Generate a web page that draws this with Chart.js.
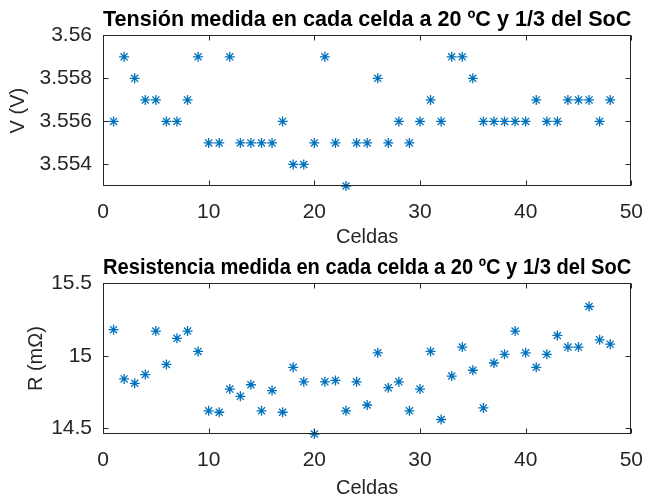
<!DOCTYPE html>
<html>
<head>
<meta charset="utf-8">
<script src="https://cdn.jsdelivr.net/npm/chart.js@4/dist/chart.umd.min.js"></script>
<style>
  html, body { margin: 0; padding: 0; background: #fff; }
  #wrap { position: relative; width: 657px; height: 500px; }
  .panel { position: absolute; left: 0; width: 657px; }
  #p1 { top: 0; height: 249px; }
  #p2 { top: 249px; height: 251px; }
</style>
</head>
<body>
<div id="wrap">
  <div class="panel" id="p1"><canvas id="c1"></canvas></div>
  <div class="panel" id="p2"><canvas id="c2"></canvas></div>
</div>
<script>
// Cell numbers 1..48
const cells = [1,2,3,4,5,6,7,8,9,10,11,12,13,14,15,16,17,18,19,20,21,22,23,24,
               25,26,27,28,29,30,31,32,33,34,35,36,37,38,39,40,41,42,43,44,45,46,47,48];

// Measured voltage per cell (V)
const voltage = [3.556,3.559,3.558,3.557,3.557,3.556,3.556,3.557,3.559,3.555,3.555,3.559,
                 3.555,3.555,3.555,3.555,3.556,3.554,3.554,3.555,3.559,3.555,3.553,3.555,
                 3.555,3.558,3.555,3.556,3.555,3.556,3.557,3.556,3.559,3.559,3.558,3.556,
                 3.556,3.556,3.556,3.556,3.557,3.556,3.556,3.557,3.557,3.557,3.556,3.557];

// Measured internal resistance per cell (mΩ)
const resistance = [15.18,14.84,14.81,14.87,15.17,14.94,15.12,15.17,15.03,14.62,14.61,14.77,
                    14.72,14.80,14.62,14.76,14.61,14.92,14.82,14.46,14.82,14.83,14.62,14.82,
                    14.66,15.02,14.78,14.82,14.62,14.77,15.03,14.56,14.86,15.06,14.90,14.64,
                    14.95,15.01,15.17,15.02,14.92,15.01,15.14,15.06,15.06,15.34,15.11,15.08];

// Axis ticks and limits
const xTicks = [0,10,20,30,40,50];
const vTicks = [3.554,3.556,3.558,3.56];
const rTicks = [14.5,15,15.5];
const vLimits = [3.553, 3.56];
const rLimits = [14.46, 15.5];

const titles = ['Tensión medida en cada celda a 20 ºC y 1/3 del SoC',
                'Resistencia medida en cada celda a 20 ºC y 1/3 del SoC'];
const xLabel = 'Celdas';
const yLabels = ['V (V)', 'R (mΩ)'];

const FONT = '"Liberation Sans", Arial, Helvetica, sans-serif';
const AXIS = '#262626';
const BLUE = '#0072BD';

// Box around the plot area with inward tick marks on all four sides
const boxPlugin = {
  id: 'boxTicks',
  afterDraw(chart) {
    const { ctx, chartArea: a, scales } = chart;
    const L = 5;
    ctx.save();
    ctx.strokeStyle = AXIS;
    ctx.lineWidth = 1;
    const l = Math.round(a.left) + 0.5, r = Math.round(a.right) - 0.5;
    const t = Math.round(a.top) + 0.5, b = Math.round(a.bottom) - 0.5;
    ctx.strokeRect(l, t, r - l, b - t);
    ctx.beginPath();
    scales.x.ticks.forEach(tk => {
      const px = Math.round(scales.x.getPixelForValue(tk.value)) + 0.5;
      ctx.moveTo(px, b); ctx.lineTo(px, b - L);
      ctx.moveTo(px, t); ctx.lineTo(px, t + L);
    });
    scales.y.ticks.forEach(tk => {
      const py = Math.round(scales.y.getPixelForValue(tk.value)) + 0.5;
      ctx.moveTo(l, py); ctx.lineTo(l + L, py);
      ctx.moveTo(r, py); ctx.lineTo(r - L, py);
    });
    ctx.stroke();
    ctx.restore();
  }
};

function makeChart(id, values, limits, yTicks, title, yTitle, opts) {
  const pts = cells.map((c, i) => ({ x: c, y: values[i] }));
  return new Chart(document.getElementById(id), {
    type: 'scatter',
    data: {
      datasets: [{
        data: pts,
        pointStyle: 'star',
        pointRadius: 5,
        pointHoverRadius: 5,
        borderColor: BLUE,
        backgroundColor: BLUE,
        borderWidth: 1.3,
        clip: false
      }]
    },
    options: {
      responsive: true,
      maintainAspectRatio: false,
      animation: false,
      events: [],
      layout: { padding: { left: 0, right: 17, top: 0, bottom: 0 } },
      plugins: {
        legend: { display: false },
        tooltip: { enabled: false },
        title: {
          display: true,
          text: title,
          fullSize: false,
          color: '#000',
          font: { family: FONT, size: 22, weight: 'bold', lineHeight: 1.15 },
          padding: opts.titlePad
        }
      },
      scales: {
        x: {
          type: 'linear',
          min: 0, max: 50,
          afterBuildTicks: s => { s.ticks = xTicks.map(v => ({ value: v })); },
          afterFit: s => { s.height = opts.xHeight; },
          grid: { display: false, drawTicks: false },
          border: { display: false },
          ticks: { color: AXIS, padding: 14, maxRotation: 0,
                   font: { family: FONT, size: 21 }, callback: v => String(v) },
          title: { display: true, text: xLabel, color: AXIS,
                   font: { family: FONT, size: 20, lineHeight: 1.2 },
                   padding: { top: 0, bottom: opts.xTitlePad } }
        },
        y: {
          type: 'linear',
          min: limits[0], max: limits[1],
          afterBuildTicks: s => { s.ticks = yTicks.map(v => ({ value: v })); },
          afterFit: s => { s.width = 103; },
          grid: { display: false, drawTicks: false },
          border: { display: false },
          ticks: { color: AXIS, padding: 11,
                   font: { family: FONT, size: 21 },
                   callback: v => String(+v.toFixed(3)) },
          title: { display: true, text: yTitle, color: AXIS,
                   font: { family: FONT, size: 20, lineHeight: 1.2 },
                   padding: { top: opts.yTitlePad, bottom: 0 } }
        }
      }
    },
    plugins: [boxPlugin]
  });
}

makeChart('c1', voltage, vLimits, vTicks, titles[0], yLabels[0],
          { titlePad: { top: 7, bottom: 3 }, xHeight: 63, xTitlePad: 0, yTitlePad: 6 });
makeChart('c2', resistance, rLimits, rTicks, titles[1], yLabels[1],
          { titlePad: { top: 6, bottom: 3 }, xHeight: 66, xTitlePad: 0, yTitlePad: 24 });
</script>
</body>
</html>
